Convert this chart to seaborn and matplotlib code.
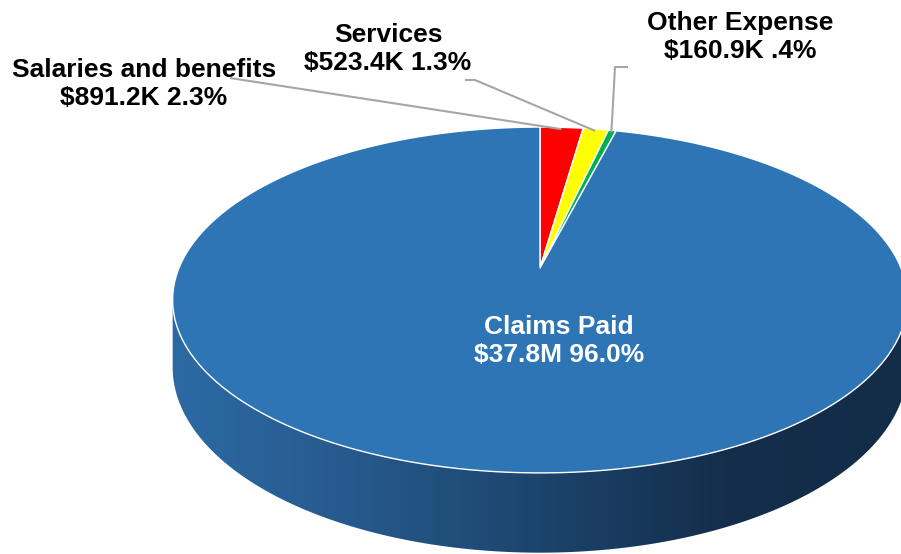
import numpy as np
import matplotlib
matplotlib.use("Agg")
import matplotlib.pyplot as plt
import seaborn as sns
from matplotlib.patches import Polygon
from matplotlib.colors import LinearSegmentedColormap

# Expense breakdown (clockwise from 12 o'clock)
categories = ["Salaries and benefits", "Services", "Other Expense", "Claims Paid"]
amounts = [891.2e3, 523.4e3, 160.9e3, 37.8e6]
slice_colors = ["#FF0000", "#FFFF00", "#00B050", "#2E75B6"]

sns.set_theme(style="white")
plt.rcParams["font.family"] = ["Liberation Sans", "DejaVu Sans"]


def money(v):
    if v >= 1e6:
        return f"${v / 1e6:.1f}M"
    return f"${v / 1e3:.1f}K"


def pct(share):
    s = f"{share * 100:.1f}%"
    return s[1:] if s.startswith("0.") else s


total = float(np.sum(amounts))
shares = np.array(amounts) / total
bounds = np.concatenate([[0.0], np.cumsum(shares)]) * 360.0

# perspective disc geometry (pixel space)
CX, CY = 540.0, 268.0
A, B, K, DEPTH = 361.0, 167.0, 0.185, 65.0


def project(theta_deg, r=1.0, drop=0.0):
    t = np.radians(theta_deg)
    u = r * np.sin(t)
    v = r * np.cos(t)
    w = 1.0 + K * v
    return CX + A * u / w, CY - B * v / w + drop / w


fig = plt.figure(figsize=(9.01, 5.54), dpi=100)
ax = fig.add_axes([0, 0, 1, 1])
ax.set_xlim(0, 901)
ax.set_ylim(554, 0)
ax.axis("off")

# side wall: silhouette runs between the widest points of the rim
th_r = np.degrees(np.arccos(-K))
th_l = 360.0 - th_r
arc = np.linspace(th_r, th_l, 300)
tx, ty = project(arc)
bx, by = project(arc[::-1], drop=DEPTH)
side = Polygon(np.column_stack([np.r_[tx, bx], np.r_[ty, by]]),
               closed=True, facecolor="none", edgecolor="none", zorder=1)
ax.add_patch(side)

side_cmap = LinearSegmentedColormap.from_list(
    "side",
    [(0.0, "#2C6AA4"), (0.25, "#26598C"), (0.5, "#1C446C"),
     (0.75, "#142E4B"), (1.0, "#132C48")])
grad = np.linspace(0, 1, 512)[None, :]
im = ax.imshow(grad, cmap=side_cmap, aspect="auto",
               extent=[170, 910, 560, 250], zorder=1, interpolation="bilinear")
im.set_clip_path(side)

# top face wedges
for i, color in enumerate(slice_colors):
    th = np.linspace(bounds[i], bounds[i + 1], max(int((bounds[i + 1] - bounds[i]) * 2), 4))
    px, py = project(th)
    poly = Polygon(np.column_stack([np.r_[CX, px], np.r_[CY, py]]),
                   closed=True, facecolor=color, edgecolor="white",
                   linewidth=1.0, joinstyle="round", zorder=2)
    ax.add_patch(poly)

mids = (bounds[:-1] + bounds[1:]) / 2.0
labels = [f"{c}\n{money(a)} {pct(s)}" for c, a, s in zip(categories, amounts, shares)]

# leader lines for the thin slices
elbows = [[(230, 78)], [(465, 80), (475, 80)], [(628, 67), (615, 67)]]
for i, pts in enumerate(elbows):
    ex, ey = project(mids[i], r=0.985)
    xs = [p[0] for p in pts] + [ex]
    ys = [p[1] for p in pts] + [ey]
    ax.plot(xs, ys, color="#A6A6A6", linewidth=1.5, zorder=3,
            solid_capstyle="butt")

label_pos = [(144, 84), (388, 49), (740, 37), (559, 341)]
for i, (lx, ly) in enumerate(label_pos):
    ax.text(lx, ly, labels[i], ha="center", va="center", multialignment="center",
            fontsize=19, fontweight="bold",
            color="white" if i == 3 else "black", linespacing=1.2, zorder=4)

fig.savefig("out.png", dpi=100, facecolor="white")
